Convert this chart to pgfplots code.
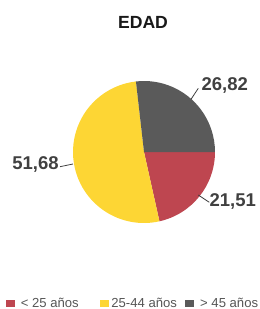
\documentclass[border=0pt]{standalone}
\usepackage{pgfplots}
\pgfplotsset{compat=1.18}
\usepackage{fontspec}
\setmainfont{Liberation Sans}
\definecolor{cred}{RGB}{190,70,80}
\definecolor{cyel}{RGB}{253,214,52}
\definecolor{cgray}{RGB}{90,90,90}
\definecolor{ctxt}{RGB}{64,64,64}
\definecolor{cleg}{RGB}{85,85,85}
\begin{document}
\begin{tikzpicture}
\begin{axis}[
  width=260pt, height=309pt, scale only axis,
  xmin=0, xmax=260, ymin=0, ymax=309,
  hide axis, clip=false,
]
\path (axis cs:0,0) rectangle (axis cs:260,309);
% pie: values 21.51 (<25), 51.68 (25-44), 26.82 (>45); start at 0 deg, clockwise
\fill[cred]  (axis cs:144,157) -- ++(0:71pt) arc[start angle=0, end angle=-77.436, radius=71pt] -- cycle;
\fill[cyel]  (axis cs:144,157) -- ++(-77.436:71pt) arc[start angle=-77.436, end angle=-263.484, radius=71pt] -- cycle;
\fill[cgray] (axis cs:144,157) -- ++(-263.484:71pt) arc[start angle=-263.484, end angle=-360, radius=71pt] -- cycle;
% title
\node[font=\fontsize{17.6}{20}\selectfont\bfseries, text=black!90] at (axis cs:143,287) {EDAD};
% labels
\draw[ctxt, line width=0.8pt] (axis cs:191,209.7) -- (axis cs:198.3,220.7);
\node[font=\fontsize{18.5}{20}\selectfont\bfseries, text=ctxt] at (axis cs:224.7,223.2) {26,82};
\draw[ctxt, line width=0.8pt] (axis cs:198.3,114) -- (axis cs:209.3,106.7);
\node[font=\fontsize{18.5}{20}\selectfont\bfseries, text=ctxt] at (axis cs:232.8,107.3) {21,51};
\draw[ctxt, line width=0.8pt] (axis cs:60,142.3) -- (axis cs:73,145);
\node[font=\fontsize{18.5}{20}\selectfont\bfseries, text=ctxt] at (axis cs:35.5,145) {51,68};
% legend
\fill[cred]  (axis cs:5.7,1.6) rectangle (axis cs:15,9.3);
\node[anchor=base west, inner sep=0pt, font=\fontsize{13.1}{15}\selectfont, text=cleg] at (axis cs:20.7,1.6) {< 25 años};
\fill[cyel]  (axis cs:100,1.6) rectangle (axis cs:109.3,9.3);
\node[anchor=base west, inner sep=0pt, font=\fontsize{13.1}{15}\selectfont, text=cleg] at (axis cs:111.2,1.6) {25-44 años};
\fill[cgray] (axis cs:185,1.6) rectangle (axis cs:194.3,9.3);
\node[anchor=base west, inner sep=0pt, font=\fontsize{13.1}{15}\selectfont, text=cleg] at (axis cs:200,1.6) {> 45 años};
\end{axis}
\end{tikzpicture}
\end{document}
